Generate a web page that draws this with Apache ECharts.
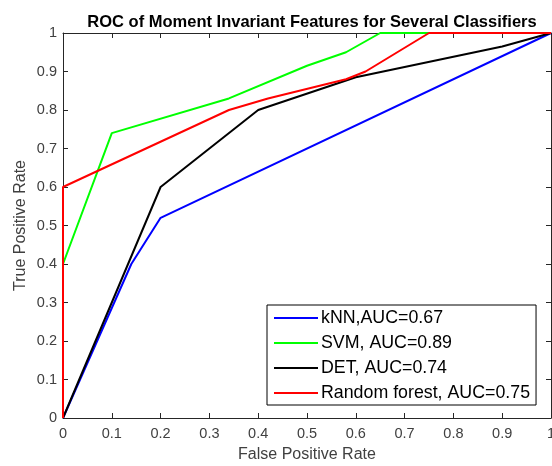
<!DOCTYPE html>
<html>
<head>
<meta charset="utf-8">
<script src="https://cdn.jsdelivr.net/npm/echarts@6/dist/echarts.min.js"></script>
<style>
  html, body { margin: 0; padding: 0; background: #fff; }
  #roc { width: 552px; height: 466px; }
</style>
</head>
<body>
<div id="roc"></div>
<script>
// ROC curve points
var knnFpr = [0, 0.14, 0.2, 1];
var knnTpr = [0, 0.4, 0.52, 1];
var svmFpr = [0, 0, 0.1, 0.34, 0.5, 0.58, 0.65, 1];
var svmTpr = [0, 0.4, 0.74, 0.83, 0.915, 0.95, 1, 1];
var detFpr = [0, 0.2, 0.4, 0.6, 0.9, 1];
var detTpr = [0, 0.6, 0.8, 0.885, 0.965, 1];
var rfFpr = [0, 0, 0.34, 0.42, 0.58, 0.62, 0.75, 1];
var rfTpr = [0, 0.6, 0.8, 0.83, 0.88, 0.9, 1, 1];
var names = ['kNN,AUC=0.67', 'SVM, AUC=0.89', 'DET, AUC=0.74', 'Random forest, AUC=0.75'];
var colors = ['#0000ff', '#00ff00', '#000000', '#ff0000'];

function pairs(xs, ys) {
    return xs.map(function (x, i) { return [x, ys[i]] })
}

var curves = [pairs(knnFpr, knnTpr), pairs(svmFpr, svmTpr), pairs(detFpr, detTpr), pairs(rfFpr, rfTpr)];

var chart = echarts.init(document.getElementById('roc'));
var axisColor = '#262626';
var labelColor = '#404040';
var font = 'Liberation Sans, Arial, sans-serif';

function valueAxis(pos, showLabel) {
    return {
        type: 'value',
        position: pos,
        min: 0,
        max: 1,
        interval: 0.1,
        splitLine: { show: false },
        axisLine: { show: true, onZero: false, lineStyle: { color: axisColor, width: 1 } },
        axisTick: { show: true, inside: true, length: 5, lineStyle: { color: axisColor } },
        axisLabel: {
            show: showLabel,
            color: labelColor,
            fontSize: 14.5,
            fontFamily: font,
            formatter: function (v) { return +v.toFixed(1) + '' }
        }
    }
}

var xMain = valueAxis('bottom', true);
xMain.name = 'False Positive Rate';
xMain.nameLocation = 'middle';
xMain.nameGap = 29;
xMain.nameMoveOverlap = false;
xMain.nameTextStyle = { color: labelColor, fontSize: 16, fontFamily: font };
xMain.axisLabel.margin = 8;

var yMain = valueAxis('left', true);
yMain.name = 'True Positive Rate';
yMain.nameLocation = 'middle';
yMain.nameGap = 34;
yMain.nameMoveOverlap = false;
yMain.nameTextStyle = { color: labelColor, fontSize: 16, fontFamily: font };
yMain.axisLabel.margin = 6;

var option = {
    backgroundColor: '#fff',
    animation: false,
    title: {
        text: 'ROC of Moment Invariant Features for Several Classifiers',
        left: 307,
        textAlign: 'center',
        top: 9,
        textStyle: { fontSize: 16.5, fontWeight: 'bold', color: '#000', fontFamily: font }
    },
    grid: { left: 63, right: 1, top: 33, bottom: 48, outerBoundsMode: 'none' },
    xAxis: [xMain, valueAxis('top', false)],
    yAxis: [yMain, valueAxis('right', false)],
    legend: {
        orient: 'vertical',
        left: 267,
        top: 305,
        padding: [4, 6, 3, 7],
        itemGap: 7,
        itemWidth: 44,
        itemHeight: 2,
        icon: 'rect',
        borderColor: '#000',
        borderWidth: 1,
        backgroundColor: '#fff',
        textStyle: { fontSize: 17.8, lineHeight: 17, color: '#000', fontFamily: font, padding: [0, 0, 0, -2] },
        data: names
    },
    series: curves.map(function (d, i) {
        return {
            name: names[i],
            type: 'line',
            data: d,
            showSymbol: false,
            clip: false,
            color: colors[i],
            lineStyle: { width: 2, color: colors[i] },
            z: 2 + i
        }
    })
};
chart.setOption(option);
</script>
</body>
</html>
